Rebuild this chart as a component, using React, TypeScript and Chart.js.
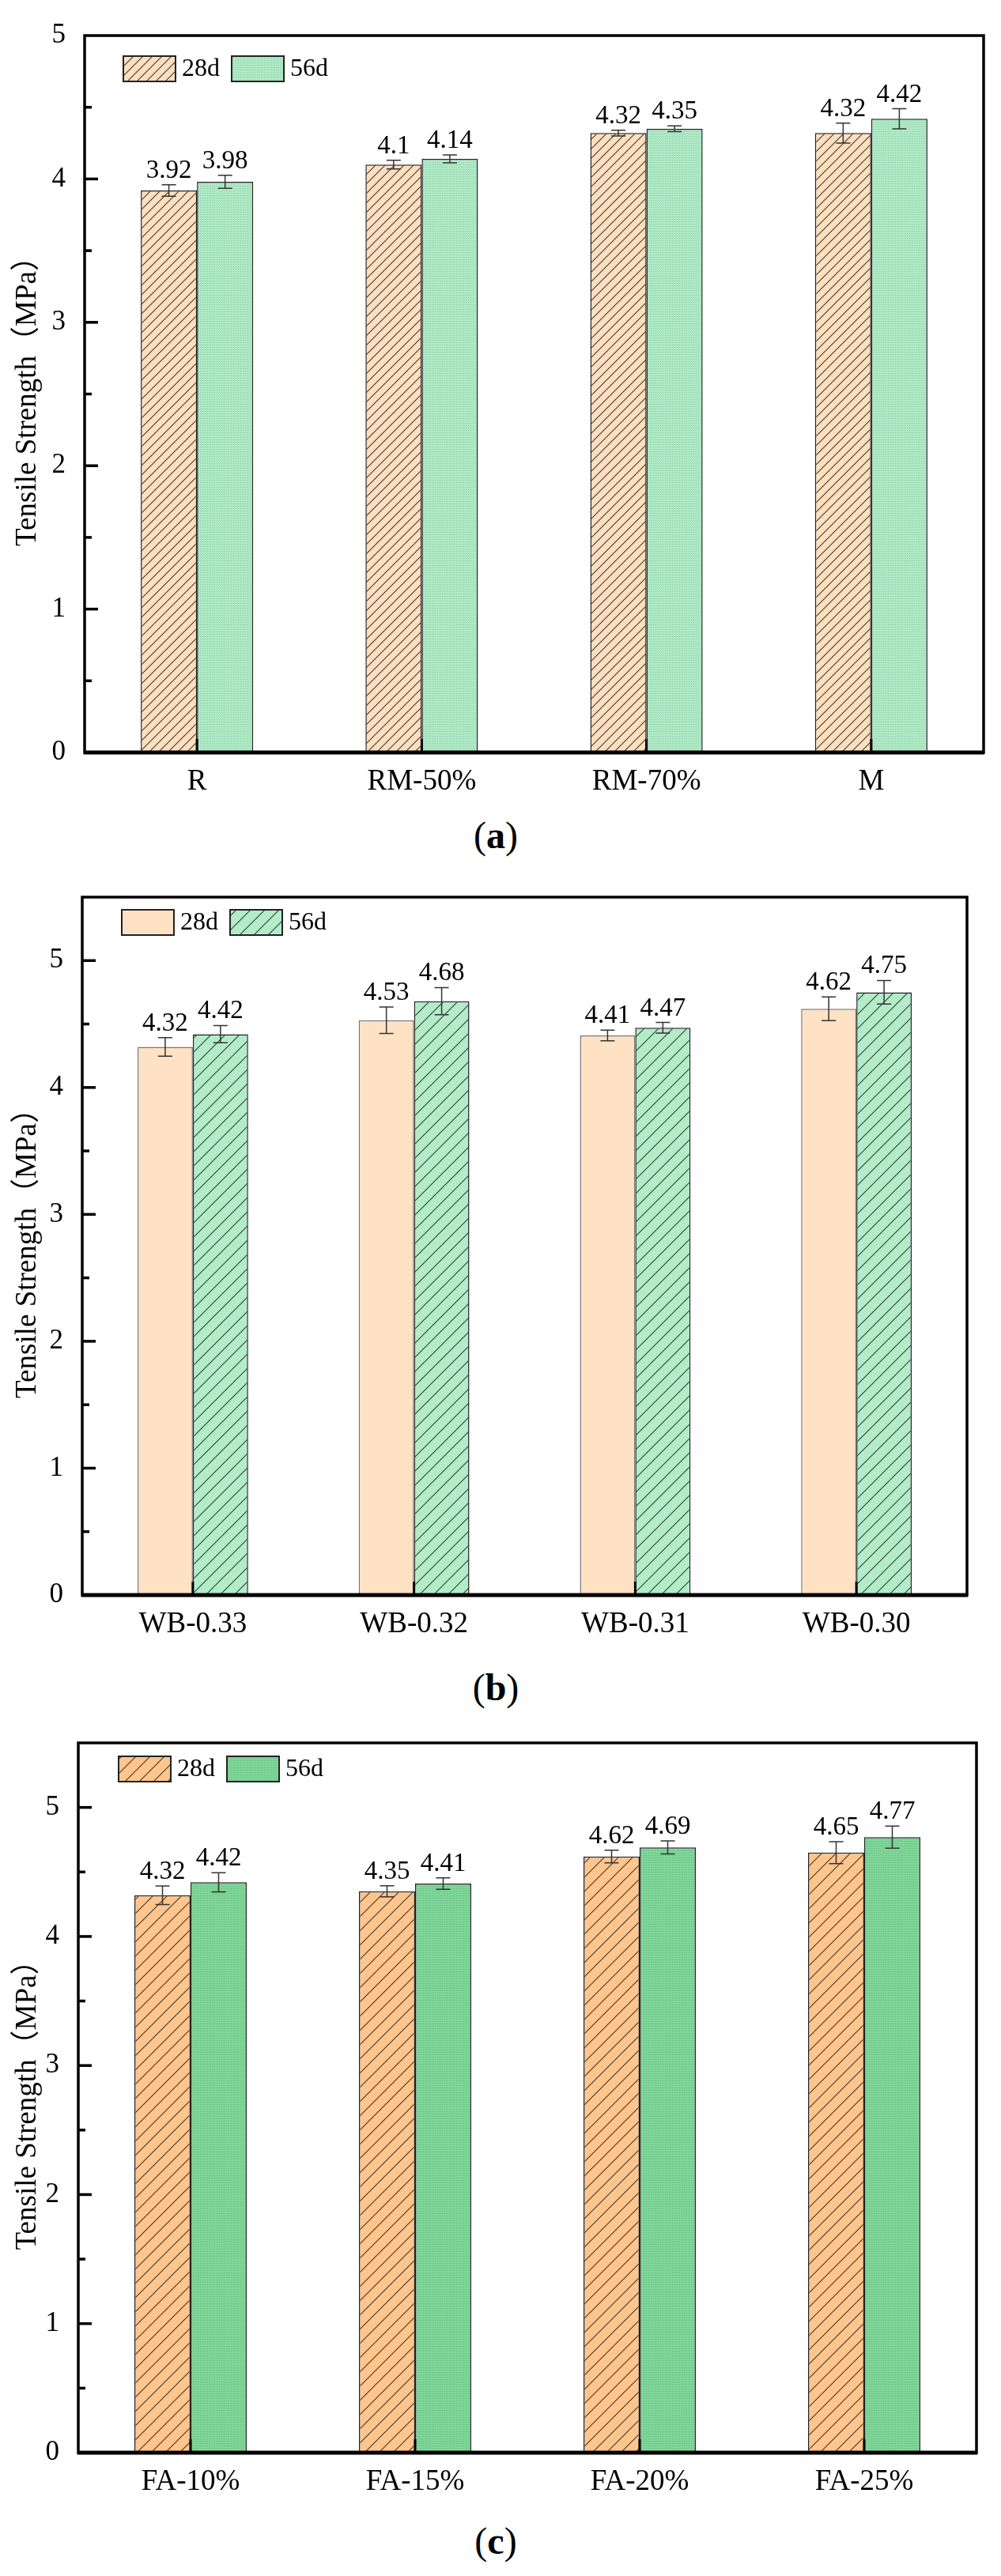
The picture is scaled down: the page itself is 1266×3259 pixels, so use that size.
import React, { useEffect, useRef } from "react";
import { Chart, registerables } from "chart.js";

Chart.register(...registerables);

const SERIF = "'Liberation Serif', 'Times New Roman', 'Noto Sans CJK SC', serif";
Chart.defaults.font.family = SERIF;
Chart.defaults.color = "#000";

// ---- data ----
const seriesNames = ["28d", "56d"];
const yTickValues = [0, 1, 2, 3, 4, 5];

const catsA = ["R", "RM-50%", "RM-70%", "M"];
const a28 = [3.92, 4.1, 4.32, 4.32];
const a56 = [3.98, 4.14, 4.35, 4.42];
const a28Err = [0.04, 0.03, 0.02, 0.07];
const a56Err = [0.045, 0.027, 0.02, 0.07];

const catsB = ["WB-0.33", "WB-0.32", "WB-0.31", "WB-0.30"];
const b28 = [4.32, 4.53, 4.41, 4.62];
const b56 = [4.42, 4.68, 4.47, 4.75];
const b28Err = [0.073, 0.104, 0.042, 0.094];
const b56Err = [0.068, 0.107, 0.042, 0.093];

const catsC = ["FA-10%", "FA-15%", "FA-20%", "FA-25%"];
const c28 = [4.32, 4.35, 4.62, 4.65];
const c56 = [4.42, 4.41, 4.69, 4.77];
const c28Err = [0.072, 0.043, 0.049, 0.085];
const c56Err = [0.074, 0.044, 0.05, 0.086];

type Fill = { bg: string; kind: "hatch" | "dots" | "solid"; gap?: number };

interface PanelSpec {
  tag: string;
  cats: string[];
  v28: number[];
  v56: number[];
  e28: number[];
  e56: number[];
  yMax: number;
  fill28: Fill;
  fill56: Fill;
  border28: string;
  top: number;
  height: number;
  padTop: number;
  padRight: number;
  yWidth: number;
  xHeight: number;
  legendDx: number;
  legendDy: number;
  tagY: number;
}

const panels: PanelSpec[] = [
  {
    tag: "a", cats: catsA, v28: a28, v56: a56, e28: a28Err, e56: a56Err, yMax: 5,
    fill28: { bg: "#FDDFBE", kind: "hatch", gap: 12 },
    fill56: { bg: "#AEE9C5", kind: "dots" },
    border28: "#222",
    top: 0, height: 1025, padTop: 35, padRight: 22, yWidth: 107, xHeight: 73,
    legendDx: 49, legendDy: 26, tagY: 1057,
  },
  {
    tag: "b", cats: catsB, v28: b28, v56: b56, e28: b28Err, e56: b56Err, yMax: 5.5,
    fill28: { bg: "#FFE1C4", kind: "solid" },
    fill56: { bg: "#B2ECC8", kind: "hatch", gap: 18 },
    border28: "#777",
    top: 1090, height: 1010, padTop: 30, padRight: 43, yWidth: 104, xHeight: 82,
    legendDx: 50, legendDy: 16, tagY: 2135,
  },
  {
    tag: "c", cats: catsC, v28: c28, v56: c56, e28: c28Err, e56: c56Err, yMax: 5.5,
    fill28: { bg: "#FFC58C", kind: "hatch", gap: 18 },
    fill56: { bg: "#7ED598", kind: "dots" },
    border28: "#222",
    top: 2160, height: 1020, padTop: 27, padRight: 31, yWidth: 99, xHeight: 77,
    legendDx: 51, legendDy: 17, tagY: 3215,
  },
];

function makeFill(f: Fill): CanvasPattern | string {
  if (f.kind === "solid") return f.bg;
  const t = document.createElement("canvas");
  const s = f.kind === "hatch" ? f.gap || 14 : 3;
  t.width = s;
  t.height = s;
  const c = t.getContext("2d")!;
  c.fillStyle = f.bg;
  c.fillRect(0, 0, s, s);
  if (f.kind === "hatch") {
    c.strokeStyle = "rgba(30,30,30,0.85)";
    c.lineWidth = 1.1;
    c.beginPath();
    c.moveTo(-1, s + 1);
    c.lineTo(s + 1, -1);
    c.moveTo(-2, 2);
    c.lineTo(2, -2);
    c.moveTo(s - 2, s + 2);
    c.lineTo(s + 2, s - 2);
    c.stroke();
  } else {
    c.fillStyle = "rgba(0,60,20,0.18)";
    c.fillRect(1, 1, 1, 1);
  }
  return c.createPattern(t, "repeat")!;
}

function decorPlugin(spec: PanelSpec) {
  return {
    id: "decor",
    afterDatasetsDraw(chart: any) {
      const { ctx, chartArea: ca, scales } = chart;
      const xs = scales.x;
      const ys = scales.y;
      const vals = [spec.v28, spec.v56];
      const errs = [spec.e28, spec.e56];
      ctx.save();

      // error bars + value labels
      vals.forEach((arr, i) => {
        const meta = chart.getDatasetMeta(i);
        arr.forEach((v, j) => {
          const bx = meta.data[j].x;
          const yt = ys.getPixelForValue(v + errs[i][j]);
          const yb = ys.getPixelForValue(v - errs[i][j]);
          ctx.strokeStyle = "#333";
          ctx.lineWidth = 1.5;
          ctx.beginPath();
          ctx.moveTo(bx, yt);
          ctx.lineTo(bx, yb);
          ctx.moveTo(bx - 9, yt);
          ctx.lineTo(bx + 9, yt);
          ctx.moveTo(bx - 9, yb);
          ctx.lineTo(bx + 9, yb);
          ctx.stroke();
          ctx.fillStyle = "#000";
          ctx.font = `33px ${SERIF}`;
          ctx.textAlign = "center";
          ctx.textBaseline = "alphabetic";
          ctx.fillText(String(v), bx, yt - 9);
        });
      });

      // frame
      ctx.strokeStyle = "#000";
      ctx.lineWidth = 3.5;
      ctx.strokeRect(ca.left, ca.top, ca.right - ca.left, ca.bottom - ca.top);
      ctx.lineWidth = 5;
      ctx.beginPath();
      ctx.moveTo(ca.left - 1, ca.bottom);
      ctx.lineTo(ca.right + 1, ca.bottom);
      ctx.stroke();

      // y ticks (major + minor), inward
      ctx.lineWidth = 3.5;
      for (let v = 0.5; v < spec.yMax; v += 0.5) {
        const py = ys.getPixelForValue(v);
        const len = Number.isInteger(v) ? 17 : 9;
        ctx.beginPath();
        ctx.moveTo(ca.left, py);
        ctx.lineTo(ca.left + len, py);
        ctx.stroke();
      }
      // x ticks, inward
      ctx.lineWidth = 3;
      spec.cats.forEach((_, k) => {
        const px = xs.getPixelForValue(k);
        ctx.beginPath();
        ctx.moveTo(px, ca.bottom);
        ctx.lineTo(px, ca.bottom - 17);
        ctx.stroke();
      });

      // legend
      let lx = ca.left + spec.legendDx;
      const ly = ca.top + spec.legendDy;
      chart.data.datasets.forEach((ds: any, i: number) => {
        ctx.fillStyle = ds.backgroundColor;
        ctx.fillRect(lx, ly, 66, 32);
        ctx.strokeStyle = "#222";
        ctx.lineWidth = 2;
        ctx.strokeRect(lx, ly, 66, 32);
        ctx.fillStyle = "#000";
        ctx.font = `32px ${SERIF}`;
        ctx.textAlign = "left";
        ctx.textBaseline = "middle";
        ctx.fillText(seriesNames[i], lx + 74, ly + 17);
        lx += 137;
      });
      ctx.restore();
    },
  };
}

function Panel({ spec }: { spec: PanelSpec }) {
  const canvasRef = useRef<HTMLCanvasElement>(null);

  useEffect(() => {
    const canvas = canvasRef.current;
    if (!canvas) return;
    const chart = new Chart(canvas, {
      type: "bar",
      data: {
        labels: spec.cats,
        datasets: [
          {
            label: seriesNames[0],
            data: spec.v28,
            backgroundColor: makeFill(spec.fill28) as any,
            borderColor: spec.border28,
            borderWidth: 1.5,
            categoryPercentage: 0.5,
            barPercentage: 1,
          },
          {
            label: seriesNames[1],
            data: spec.v56,
            backgroundColor: makeFill(spec.fill56) as any,
            borderColor: "#222",
            borderWidth: 1.5,
            categoryPercentage: 0.5,
            barPercentage: 1,
          },
        ],
      },
      options: {
        responsive: false,
        animation: false,
        layout: { padding: { top: spec.padTop, right: spec.padRight, left: 0, bottom: 0 } },
        plugins: { legend: { display: false }, tooltip: { enabled: false } },
        scales: {
          x: {
            grid: { display: false, drawTicks: false },
            border: { display: false },
            ticks: { font: { size: 37 }, color: "#000", padding: 15 },
            afterFit: (s: any) => {
              s.height = spec.xHeight;
            },
          },
          y: {
            min: 0,
            max: spec.yMax,
            grid: { display: false, drawTicks: false },
            border: { display: false },
            afterBuildTicks: (s: any) => {
              s.ticks = yTickValues.map((v) => ({ value: v }));
            },
            ticks: { font: { size: 35 }, color: "#000", padding: 24 },
            title: {
              display: true,
              text: "Tensile Strength（MPa）",
              font: { size: 37 },
              color: "#000",
              padding: { top: 13, bottom: 0 },
            },
            afterFit: (s: any) => {
              s.width = spec.yWidth;
            },
          },
        },
      },
      plugins: [decorPlugin(spec)],
    });
    return () => chart.destroy();
  }, [spec]);

  return (
    <>
      <div style={{ position: "absolute", left: 0, top: spec.top, width: 1266, height: spec.height }}>
        <canvas ref={canvasRef} width={1266} height={spec.height} style={{ display: "block" }} />
      </div>
      <div
        style={{
          position: "absolute",
          left: 0,
          width: 1254,
          top: spec.tagY - 30,
          height: 60,
          lineHeight: "60px",
          textAlign: "center",
          fontFamily: SERIF,
          fontSize: 48,
          color: "#000",
        }}
      >
        (<b>{spec.tag}</b>)
      </div>
    </>
  );
}

export default function App() {
  return (
    <div style={{ position: "absolute", left: 0, top: 0, width: 1266, height: 3259, background: "#fff" }}>
      {panels.map((p) => (
        <Panel key={p.tag} spec={p} />
      ))}
    </div>
  );
}
